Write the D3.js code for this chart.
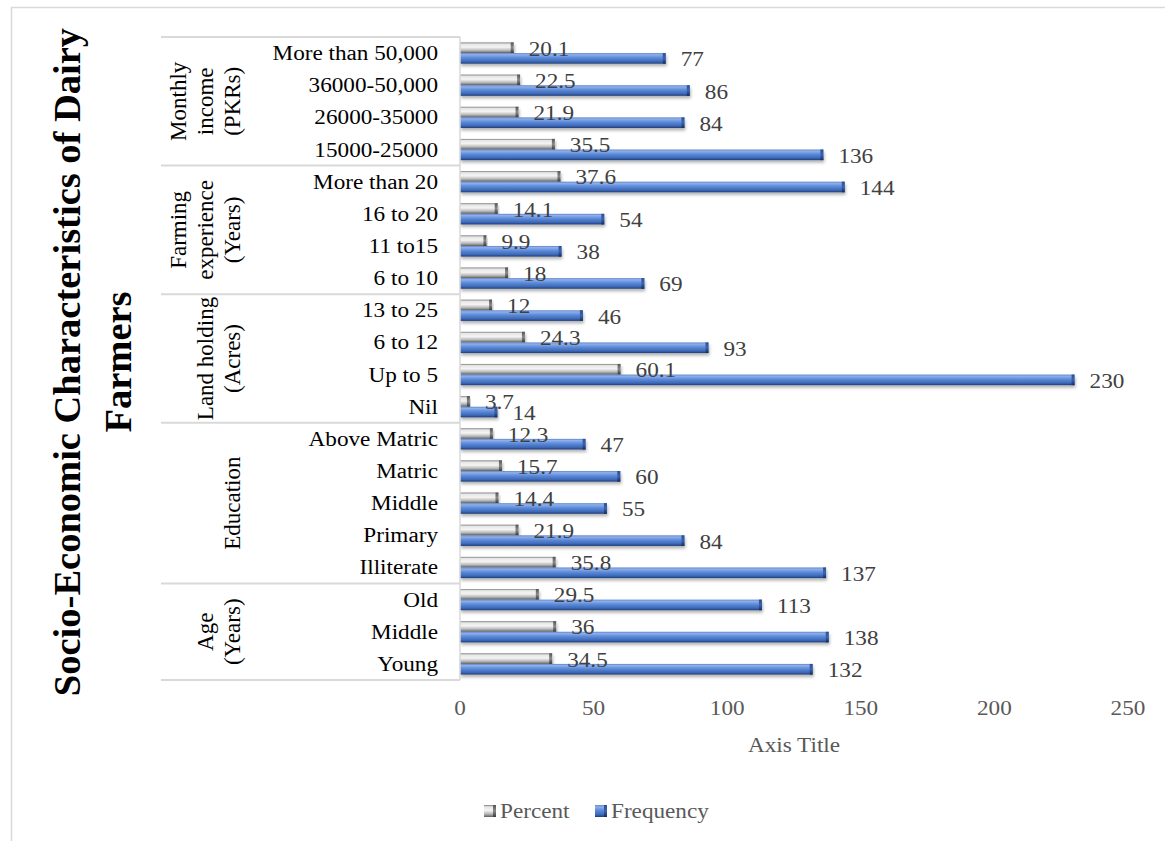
<!DOCTYPE html>
<html>
<head>
<meta charset="utf-8">
<script src="https://cdn.jsdelivr.net/npm/d3@7"></script>
<style>
  body { margin: 0; background: #fff; }
  text { font-family: "Liberation Serif", "Times New Roman", serif; }
</style>
</head>
<body>
<svg id="Target" width="1165" height="841"></svg>
<script>

// categories top to bottom
const categories = [
    "More than 50,000", "36000-50,000", "26000-35000", "15000-25000",
    "More than 20", "16 to 20", "11 to15", "6 to 10",
    "13 to 25", "6 to 12", "Up to 5", "Nil",
    "Above Matric", "Matric", "Middle ", "Primary", "Illiterate",
    "Old", "Middle", "Young"
];

const percent = [20.1, 22.5, 21.9, 35.5, 37.6, 14.1, 9.9, 18, 12, 24.3, 60.1, 3.7,
    12.3, 15.7, 14.4, 21.9, 35.8, 29.5, 36, 34.5];

const frequency = [77, 86, 84, 136, 144, 54, 38, 69, 46, 93, 230, 14,
    47, 60, 55, 84, 137, 113, 138, 132];

const groupLabels = [
    ["Monthly", "income", "(PKRs)"],
    ["Farming", "experience", "(Years)"],
    ["Land holding", "(Acres)"],
    ["Education"],
    ["Age", "(Years)"]
];
const groupSizes = [4, 4, 4, 5, 3];

const seriesNames = ["Percent", "Frequency"];
const xTicks = [0, 50, 100, 150, 200, 250];

const stretch = "scale(1.16,1)";

const svg = d3.select("#Target");
const defs = svg.append("defs");

const gradient = (id, stops) => {
    const g = defs.append("linearGradient")
        .attr("id", id)
        .attr("x1", 0).attr("y1", 0).attr("x2", 0).attr("y2", 1);
    stops.forEach(s => g.append("stop").attr("offset", s[0]).attr("stop-color", s[1]));
};

gradient("gradGray", [[0, "#7a7a7a"], [0.15, "#e6e6e6"], [0.45, "#f4f4f4"], [0.75, "#b8b8b8"], [1, "#5e5e5e"]]);
gradient("gradBlue", [[0, "#5a84cc"], [0.15, "#8fb0ea"], [0.45, "#5b8ad8"], [0.8, "#3d68b8"], [1, "#1f3c75"]]);
gradient("capGray", [[0, "#555"], [0.5, "#8a8a8a"], [1, "#3a3a3a"]]);
gradient("capBlue", [[0, "#2c4f90"], [0.5, "#3a64b0"], [1, "#162d5c"]]);

const shadow = defs.append("filter")
    .attr("id", "shadow")
    .attr("x", "-5%").attr("y", "-50%").attr("width", "110%").attr("height", "250%");
shadow.append("feDropShadow")
    .attr("dx", 1).attr("dy", 2.5)
    .attr("stdDeviation", 1.5)
    .attr("flood-color", "#000")
    .attr("flood-opacity", 0.3);

// chart frame
svg.append("rect")
    .attr("x", 11.5).attr("y", 7.5)
    .attr("width", 1200).attr("height", 900)
    .attr("fill", "#fff")
    .attr("stroke", "#d9d9d9")
    .attr("stroke-width", 1.5);

const x = d3.scaleLinear().domain([0, 250]).range([460, 1128]);

const y = d3.scaleBand()
    .domain(d3.range(categories.length))
    .range([37, 680])
    .paddingInner(0.34)
    .paddingOuter(0.17);

const ySub = d3.scaleBand()
    .domain(seriesNames)
    .range([0, y.bandwidth()]);

const rows = categories.map((c, i) => ({
    label: c, i: i,
    values: [
        { key: "Percent", value: percent[i], i: i },
        { key: "Frequency", value: frequency[i], i: i }
    ]
}));
const allValues = rows.flatMap(r => r.values);

const fills = { Percent: "url(#gradGray)", Frequency: "url(#gradBlue)" };
const caps = { Percent: "url(#capGray)", Frequency: "url(#capBlue)" };

const barY = d => y(d.i) + ySub(d.key);

// bars
const bar = svg.selectAll("g.bar")
    .data(allValues)
    .enter()
    .append("g")
    .attr("class", "bar")
    .attr("transform", d => `translate(0,${barY(d)})`);

bar.append("rect")
    .attr("x", x(0))
    .attr("y", 0)
    .attr("width", d => x(d.value) - x(0))
    .attr("height", ySub.bandwidth())
    .attr("fill", d => fills[d.key])
    .attr("filter", "url(#shadow)");

bar.append("rect")
    .attr("x", d => x(d.value) - Math.min(3, x(d.value) - x(0)))
    .attr("y", 0)
    .attr("width", d => Math.min(3, x(d.value) - x(0)))
    .attr("height", ySub.bandwidth())
    .attr("fill", d => caps[d.key]);

// data labels, drawn above every bar
svg.selectAll("text.value")
    .data(allValues)
    .enter()
    .append("text")
    .attr("class", "value")
    .attr("transform", d => `translate(${x(d.value) + 15},${barY(d) + ySub.bandwidth() / 2 + 1}) ${stretch}`)
    .attr("dy", "0.35em")
    .attr("font-size", 20)
    .attr("fill", "#404040")
    .text(d => d.value);

// value axis line
svg.append("line")
    .attr("x1", x(0)).attr("x2", x(0))
    .attr("y1", 37).attr("y2", 680)
    .attr("stroke", "#d9d9d9")
    .attr("stroke-width", 1.5);

// category labels
svg.selectAll("text.cat")
    .data(rows)
    .enter()
    .append("text")
    .attr("class", "cat")
    .attr("transform", d => `translate(438,${y(d.i) + y.bandwidth() / 2}) ${stretch}`)
    .attr("dy", "0.35em")
    .attr("text-anchor", "end")
    .attr("font-size", 20)
    .attr("fill", "#000")
    .text(d => d.label.trim());

// group separators and labels
const step = y.step();
let start = 0;
const groups = groupLabels.map((lines, gi) => {
    const g = { lines: lines, top: 37 + start * step, bottom: 37 + (start + groupSizes[gi]) * step };
    start += groupSizes[gi];
    return g;
});

const bounds = [37].concat(groups.map(g => g.bottom));

svg.selectAll("line.sep")
    .data(bounds)
    .enter()
    .append("line")
    .attr("class", "sep")
    .attr("x1", 161).attr("x2", x(0))
    .attr("y1", d => d).attr("y2", d => d)
    .attr("stroke", "#d9d9d9")
    .attr("stroke-width", 2);

groups.forEach(g => {
    const cy = (g.top + g.bottom) / 2;
    const n = g.lines.length;
    g.lines.forEach((line, li) => {
        svg.append("text")
            .attr("transform", `translate(${232 - (n - 1 - li) * 27},${cy}) rotate(-90)`)
            .attr("dy", "0.33em")
            .attr("text-anchor", "middle")
            .attr("font-size", 23)
            .attr("fill", "#000")
            .text(line);
    });
});

// x tick labels
svg.selectAll("text.tick")
    .data(xTicks)
    .enter()
    .append("text")
    .attr("class", "tick")
    .attr("transform", d => `translate(${x(d)},708) ${stretch}`)
    .attr("dy", "0.35em")
    .attr("text-anchor", "middle")
    .attr("font-size", 20)
    .attr("fill", "#595959")
    .text(d => d);

svg.append("text")
    .attr("transform", `translate(${(x(0) + x(250)) / 2},745) ${stretch}`)
    .attr("dy", "0.35em")
    .attr("text-anchor", "middle")
    .attr("font-size", 20)
    .attr("fill", "#595959")
    .text("Axis Title");

// chart title
const titleLines = ["Socio-Economic Characteristics of Dairy", "Farmers"];
titleLines.forEach((t, i) => {
    svg.append("text")
        .attr("transform", `translate(${67 + i * 51},362) rotate(-90)`)
        .attr("dy", "0.33em")
        .attr("text-anchor", "middle")
        .attr("font-size", 38.5)
        .attr("font-weight", "bold")
        .attr("fill", "#000")
        .text(t);
});

// legend
const legendX = [484, 595];
const legend = svg.selectAll("g.legend")
    .data(seriesNames)
    .enter()
    .append("g")
    .attr("class", "legend")
    .attr("transform", (d, i) => `translate(${legendX[i]},811)`);

legend.append("rect")
    .attr("x", 0).attr("y", -6)
    .attr("width", 12).attr("height", 12)
    .attr("fill", d => fills[d]);

legend.append("rect")
    .attr("x", 9).attr("y", -6)
    .attr("width", 3).attr("height", 12)
    .attr("fill", d => caps[d]);

legend.append("text")
    .attr("transform", `translate(16,0) ${stretch}`)
    .attr("dy", "0.35em")
    .attr("font-size", 20)
    .attr("fill", "#595959")
    .text(d => d);

</script>
</body>
</html>
